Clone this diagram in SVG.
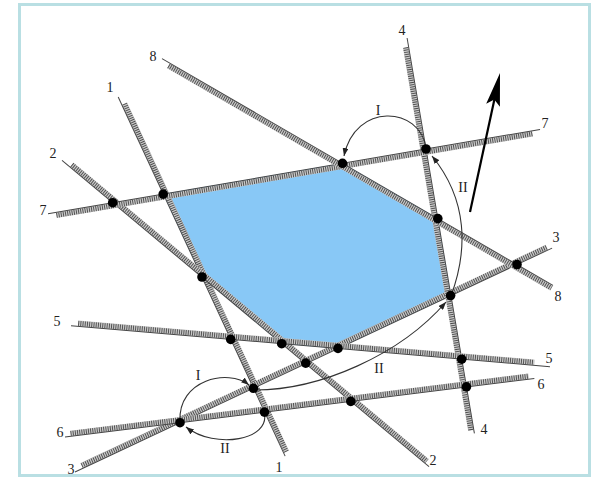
<svg xmlns="http://www.w3.org/2000/svg" width="598" height="485" viewBox="0 0 598 485">
<style>
.axis{stroke:#444;stroke-width:1;fill:none}
.bg{stroke:#c8c8c8;stroke-width:5.5}
.tk{stroke:#4a4a4a;stroke-width:5;stroke-dasharray:0.9 1.3}
.lbl{font-family:"Liberation Serif","Times New Roman",serif;font-size:14px;fill:#222;text-anchor:middle}
.arc{stroke:#333;stroke-width:1.1;fill:none;marker-end:url(#ah)}
.dot{fill:#000}
</style>
<defs>
<marker id="ah" viewBox="0 0 8 6" refX="8" refY="3" markerWidth="8" markerHeight="6" orient="auto" markerUnits="userSpaceOnUse"><path d="M0,0 L8,3 L0,6 z" fill="#222"/></marker>
</defs>
<rect x="0" y="0" width="598" height="485" fill="#fff"/>
<rect x="19.5" y="4.5" width="570" height="471" fill="#fff" stroke="#b9dfe3" stroke-width="3"/>
<polygon id="region" points="163.2,194.1 342.5,163.3 437.8,218.6 450.6,295.6 338,348.4 281.7,343.7 202,277" fill="#88c8f6"/>
<g id="lines">
<g id="line1" transform="translate(118.2 97) rotate(65.07)"><line class="bg" x1="8.8" y1="-3" x2="392.5" y2="-3"/><line class="tk" x1="8.8" y1="-3" x2="392.5" y2="-3"/><line class="axis" x1="0" y1="0" x2="396" y2="0"/></g>
<g id="line2" transform="translate(62 160.4) rotate(39.84)"><line class="bg" x1="10.4" y1="-3" x2="472.8" y2="-3"/><line class="tk" x1="10.4" y1="-3" x2="472.8" y2="-3"/><line class="axis" x1="0" y1="0" x2="478" y2="0"/></g>
<g id="line3" transform="translate(75 472) rotate(-25.14)"><line class="bg" x1="8.8" y1="-3" x2="522.5" y2="-3"/><line class="tk" x1="8.8" y1="-3" x2="522.5" y2="-3"/><line class="axis" x1="0" y1="0" x2="527" y2="0"/></g>
<g id="line4" transform="translate(407.1 38) rotate(80.34)"><line class="bg" x1="9.1" y1="3" x2="397.6" y2="3"/><line class="tk" x1="9.1" y1="3" x2="397.6" y2="3"/><line class="axis" x1="0" y1="0" x2="401" y2="0"/></g>
<g id="line5" transform="translate(71 325.7) rotate(4.89)"><line class="bg" x1="7" y1="-3" x2="464.7" y2="-3"/><line class="tk" x1="7" y1="-3" x2="464.7" y2="-3"/><line class="axis" x1="0" y1="0" x2="480.7" y2="0"/></g>
<g id="line6" transform="translate(65 437.1) rotate(-7.125)"><line class="bg" x1="6" y1="-3" x2="467.6" y2="-3"/><line class="tk" x1="6" y1="-3" x2="467.6" y2="-3"/><line class="axis" x1="0" y1="0" x2="473" y2="0"/></g>
<g id="line7" transform="translate(48 213.8) rotate(-9.726)"><line class="bg" x1="8.1" y1="3" x2="491.1" y2="3"/><line class="tk" x1="8.1" y1="3" x2="491.1" y2="3"/><line class="axis" x1="0" y1="0" x2="499.2" y2="0"/></g>
<g id="line8" transform="translate(162 58.6) rotate(30.12)"><line class="bg" x1="9.25" y1="3" x2="452" y2="3"/><line class="tk" x1="9.25" y1="3" x2="452" y2="3"/><line class="axis" x1="0" y1="0" x2="452" y2="0"/></g>
</g>
<g id="arcs">
<path class="arc" d="M426,148 C420,106 355,102 344,156"/>
<path class="arc" d="M451,296 C468,250 468,200 432,156"/>
<path class="arc" d="M180,421 C178,380 228,368 249,385"/>
<path class="arc" d="M264,412 C272,440 215,450 186,427"/>
<path class="arc" d="M255,390 C320,390 400,355 446,302"/>
</g>
<g id="arrow">
<line x1="470" y1="212" x2="494.5" y2="99" stroke="#000" stroke-width="2.2"/>
<path d="M500,73 L499.9,106.7 L494.3,99.4 L486.2,103.7 z" fill="#000"/>
</g>
<g id="dots">
<circle class="dot" cx="112.7" cy="202.7" r="4.8"/>
<circle class="dot" cx="163.2" cy="194.1" r="4.8"/>
<circle class="dot" cx="342.5" cy="163.3" r="4.8"/>
<circle class="dot" cx="426" cy="149" r="4.8"/>
<circle class="dot" cx="437.8" cy="218.6" r="4.8"/>
<circle class="dot" cx="517" cy="264.5" r="4.8"/>
<circle class="dot" cx="450.6" cy="295.6" r="4.8"/>
<circle class="dot" cx="202" cy="277" r="4.8"/>
<circle class="dot" cx="230.7" cy="339.4" r="4.8"/>
<circle class="dot" cx="281.7" cy="343.7" r="4.8"/>
<circle class="dot" cx="338" cy="348.4" r="4.8"/>
<circle class="dot" cx="305.7" cy="363.1" r="4.8"/>
<circle class="dot" cx="461.7" cy="359.2" r="4.8"/>
<circle class="dot" cx="253.4" cy="388.3" r="4.8"/>
<circle class="dot" cx="264.5" cy="412.1" r="4.8"/>
<circle class="dot" cx="180" cy="422.7" r="4.8"/>
<circle class="dot" cx="350.8" cy="401.4" r="4.8"/>
<circle class="dot" cx="466.4" cy="386.9" r="4.8"/>
</g>
<g id="labels">
<text class="lbl" x="110" y="92">1</text>
<text class="lbl" x="279" y="472">1</text>
<text class="lbl" x="53" y="158">2</text>
<text class="lbl" x="433" y="465">2</text>
<text class="lbl" x="71" y="474">3</text>
<text class="lbl" x="556" y="242">3</text>
<text class="lbl" x="402" y="35">4</text>
<text class="lbl" x="484" y="434">4</text>
<text class="lbl" x="57" y="326">5</text>
<text class="lbl" x="549" y="363">5</text>
<text class="lbl" x="60" y="437">6</text>
<text class="lbl" x="541" y="389">6</text>
<text class="lbl" x="43" y="215">7</text>
<text class="lbl" x="545" y="128">7</text>
<text class="lbl" x="153" y="61">8</text>
<text class="lbl" x="558" y="301">8</text>
<text class="lbl" x="378" y="115">I</text>
<text class="lbl" x="463" y="192">II</text>
<text class="lbl" x="198" y="380">I</text>
<text class="lbl" x="225" y="453">II</text>
<text class="lbl" x="379" y="373">II</text>
</g>
</svg>
